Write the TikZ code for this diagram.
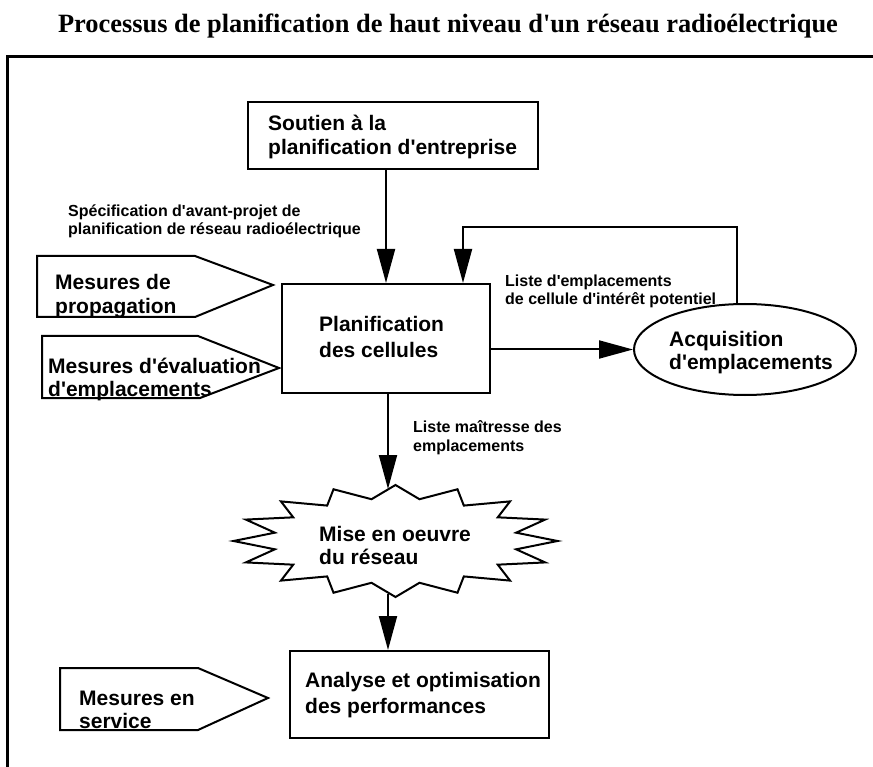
\documentclass[tikz,border=0pt]{standalone}
\usepackage{fontspec}
\newfontfamily\lsans{Liberation Sans}
\newfontfamily\lserif{Liberation Serif}
\usetikzlibrary{arrows.meta,shapes.geometric}
\begin{document}
\begin{tikzpicture}[x=1pt,y=-1pt,
  box/.style={draw, line width=2pt, rectangle, inner sep=0pt, anchor=north west},
  pent/.style={draw, line width=2pt, line join=miter},
  txt/.style={font=\lsans\bfseries\fontsize{21}{#1}\selectfont, anchor=base west, inner sep=0pt, align=left},
  txt/.default=25,
  small/.style={font=\lsans\bfseries\fontsize{16}{18.5}\selectfont, anchor=base west, inner sep=0pt, align=left},
  arr/.style={line width=2pt, -{Triangle[length=34pt,width=18pt]}},
  frame/.style={line width=3pt}]
\useasboundingbox (0,0) rectangle (873,767);
% title
\node[font=\lserif\bfseries\fontsize{26.4}{30}\selectfont, anchor=base, inner sep=0pt] (title) at (448,33)
  {Processus de planification de haut niveau d'un r\'eseau radio\'electrique};
% frame
\coordinate (frTL) at (7,57);
\coordinate (frBL) at (7,767);
\coordinate (frTR) at (873,57);
\draw[frame] (frBL) -- (frTL) -- (frTR);
% boxes
\node[box, minimum width=290pt, minimum height=67pt] (soutien) at (247,101) {};
\node[txt=24] (soutienT) at (268,155) {Soutien \`a la\\planification d'entreprise};
\node[box, minimum width=208pt, minimum height=109pt] (planif) at (281,283) {};
\node[txt=26] (planifT) at (319,357) {Planification\\des cellules};
\node[box, minimum width=259pt, minimum height=87pt] (analyse) at (289,650) {};
\node[txt=26] (analyseT) at (305,713) {Analyse et optimisation\\des performances};
\node[draw, ellipse, line width=2pt, minimum width=222pt, minimum height=91pt, inner sep=0pt] (acq) at (745,349.5) {};
\node[txt=24] (acqT) at (669,370) {Acquisition\\d'emplacements};
% pentagons (inputs)
\draw[pent] (37,256) -- (195,256) -- (273,285) -- (195,317) -- (37,317) -- cycle;
\node[txt=24] (propT) at (55,314) {Mesures de\\propagation};
\draw[pent] (42,336) -- (198,336) -- (279,368) -- (200,398) -- (42,398) -- cycle;
\node[txt=23] (evalT) at (48,396) {Mesures d'\'evaluation\\d'emplacements};
\draw[pent] (60,668) -- (198,668) -- (268,698) -- (198,730) -- (60,730) -- cycle;
\node[txt=23] (servT) at (79,728) {Mesures en\\service};
% star
\draw[line width=2pt, line join=miter, shift={(395.5,541)}]
  plot[samples at={0,...,31}] ({(mod(\x,2)==0 ? 162 : 123)*cos(\x*11.25)}, {(mod(\x,2)==0 ? 56 : 42.6)*sin(\x*11.25)}) -- cycle;
\node[txt=23] (miseT) at (319,564) {Mise en oeuvre\\du r\'eseau};
\coordinate (startop) at (388,489);
\coordinate (starbot) at (388,594);
% labels
\node[small] (specL) at (68,235) {Sp\'ecification d'avant-projet de\\planification de r\'eseau radio\'electrique};
\node[small] (listeL) at (505,305) {Liste d'emplacements\\de cellule d'int\'er\^et potentiel};
\node[small] (maitL) at (413,451) {Liste ma\^itresse des\\emplacements};
% connectors
\draw[arr] (soutien.south -| planif.north) -- (planif.north);
\draw[arr] (planif.east |- acq.west) -- (acq.west);
\coordinate (fbA) at (737,227);
\coordinate (fbB) at (463,227);
\draw[arr] (acq.north -| fbA) -- (fbA) -- (fbB) -- (fbB |- planif.north);
\draw[arr] (planif.south -| startop) -- (startop);
\draw[arr] (starbot) -- (starbot |- analyse.north);
\end{tikzpicture}
\end{document}
